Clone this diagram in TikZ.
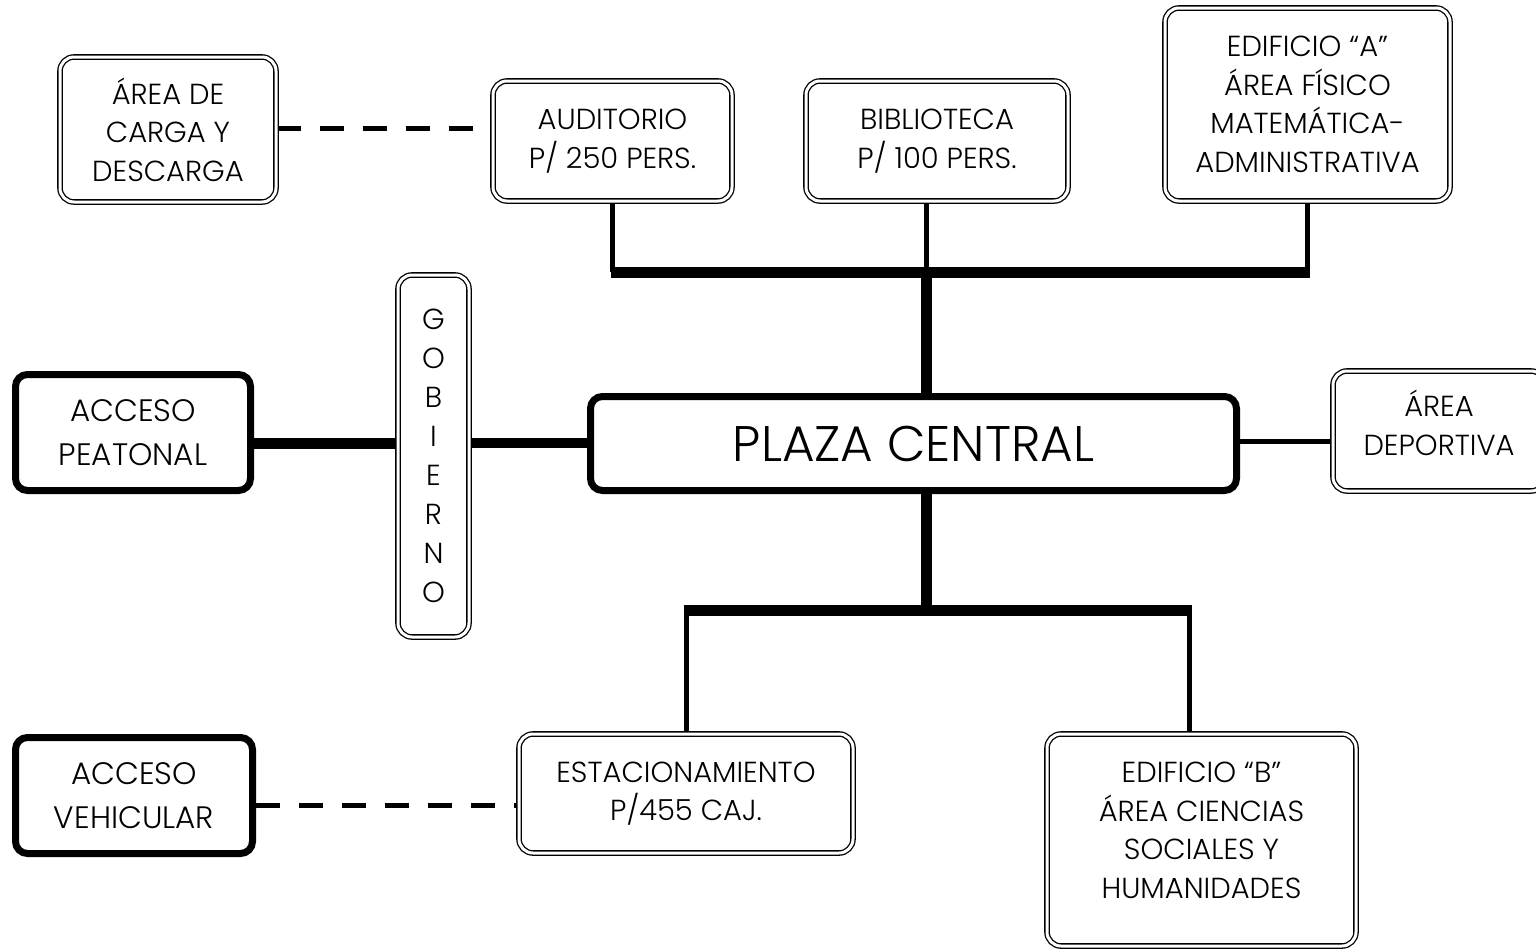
\documentclass[tikz,border=0pt]{standalone}
\usepackage{fontspec}
\setmainfont{Poppins Light}
\usetikzlibrary{backgrounds}
\newcommand\lbl{\fontsize{29}{38.5}\selectfont}
\newcommand\acc{\fontsize{31}{44}\selectfont}
\newcommand\bigplaza{\fontsize{50}{60}\selectfont}
\tikzset{
 dbl/.style={draw, double=white, double distance=3pt, line width=1.3pt, rounded corners=14pt, align=center, font=\lbl, fill=white, inner sep=0pt},
 thk/.style={draw, line width=7pt, rounded corners=12pt, align=center, font=\lbl, fill=white, inner sep=0pt},
 thinc/.style={line width=5pt},
 heavy/.style={line width=11pt},
 dsh/.style={line width=5pt, dash pattern=on 24pt off 19pt},
}
\begin{document}
\begin{tikzpicture}[x=1pt,y=-1pt]
\clip (0,0) rectangle (1536,948);
\node[dbl, minimum width=216pt, minimum height=145pt] (carga) at (168,129.5) {ÁREA DE\\CARGA Y\\DESCARGA};
\node[dbl, minimum width=239pt, minimum height=120pt] (aud) at (612.5,141) {AUDITORIO\\P/ 250 PERS.};
\node[dbl, minimum width=262pt, minimum height=120pt] (bib) at (937,141) {BIBLIOTECA\\P/ 100 PERS.};
\node[dbl, minimum width=285pt, minimum height=193pt] (edA) at (1307.5,104.5) {EDIFICIO ``A''\\ÁREA FÍSICO\\MATEMÁTICA-\\ADMINISTRATIVA};
\node[dbl, minimum width=71pt, minimum height=362pt, font=\fontsize{29}{39}\selectfont] (gob) at (433.5,456) {G\\O\\B\\I\\E\\R\\N\\O};
\node[thk, minimum width=235pt, minimum height=116pt, font=\acc] (peat) at (133,432.5) {ACCESO\\PEATONAL};
\node[thk, minimum width=646pt, minimum height=94pt, font=\bigplaza] (plaza) at (913.5,443.5) {PLAZA CENTRAL};
\node[dbl, minimum width=212pt, minimum height=120pt] (dep) at (1439,431) {ÁREA\\DEPORTIVA\\[-22pt]\mbox{}};
\node[thk, minimum width=237pt, minimum height=116pt, font=\acc] (veh) at (134,795.5) {ACCESO\\VEHICULAR};
\node[dbl, minimum width=334pt, minimum height=119pt] (est) at (686,793.5) {ESTACIONAMIENTO\\P/455 CAJ.};
\node[dbl, minimum width=309pt, minimum height=212pt] (edB) at (1201.5,840) {EDIFICIO ``B''\\ÁREA CIENCIAS\\SOCIALES Y\\HUMANIDADES\\[-19pt]\mbox{}};
\coordinate (tb) at (926,272);
\coordinate (bb) at (926,610);
\coordinate (hy) at (0,443);
\coordinate (dy1) at (0,128);
\coordinate (dy2) at (0,805);
\coordinate (dy3) at (0,441);
\begin{scope}[on background layer]
\draw[thinc] (aud.south) -- (aud.south |- tb);
\draw[thinc] (edA.south) -- (edA.south |- tb);
\draw[thinc] (tb |- bib.south) -- (tb);
\draw[heavy] ([xshift=-2pt]aud.south |- tb) -- ([xshift=2pt]edA.south |- tb);
\draw[heavy] (tb) -- (tb |- plaza.north);
\draw[heavy] (bb |- plaza.south) -- (bb);
\draw[heavy] ([xshift=-2pt]est.north |- bb) -- ([xshift=-10pt]edB.north |- bb);
\draw[thinc] (est.north |- bb) -- (est.north);
\draw[thinc] ([xshift=-12pt]edB.north |- bb) -- ([xshift=-12pt]edB.north);
\draw[heavy] (peat.east |- hy) -- (gob.west |- hy);
\draw[line width=10pt] (gob.east |- hy) -- (plaza.west |- hy);
\draw[thinc] (plaza.east |- dy3) -- (dep.west |- dy3);
\draw[dsh] (carga.east |- dy1) -- (aud.west |- dy1);
\draw[dsh] (veh.east |- dy2) -- (est.west |- dy2);
\end{scope}
\end{tikzpicture}
\end{document}
